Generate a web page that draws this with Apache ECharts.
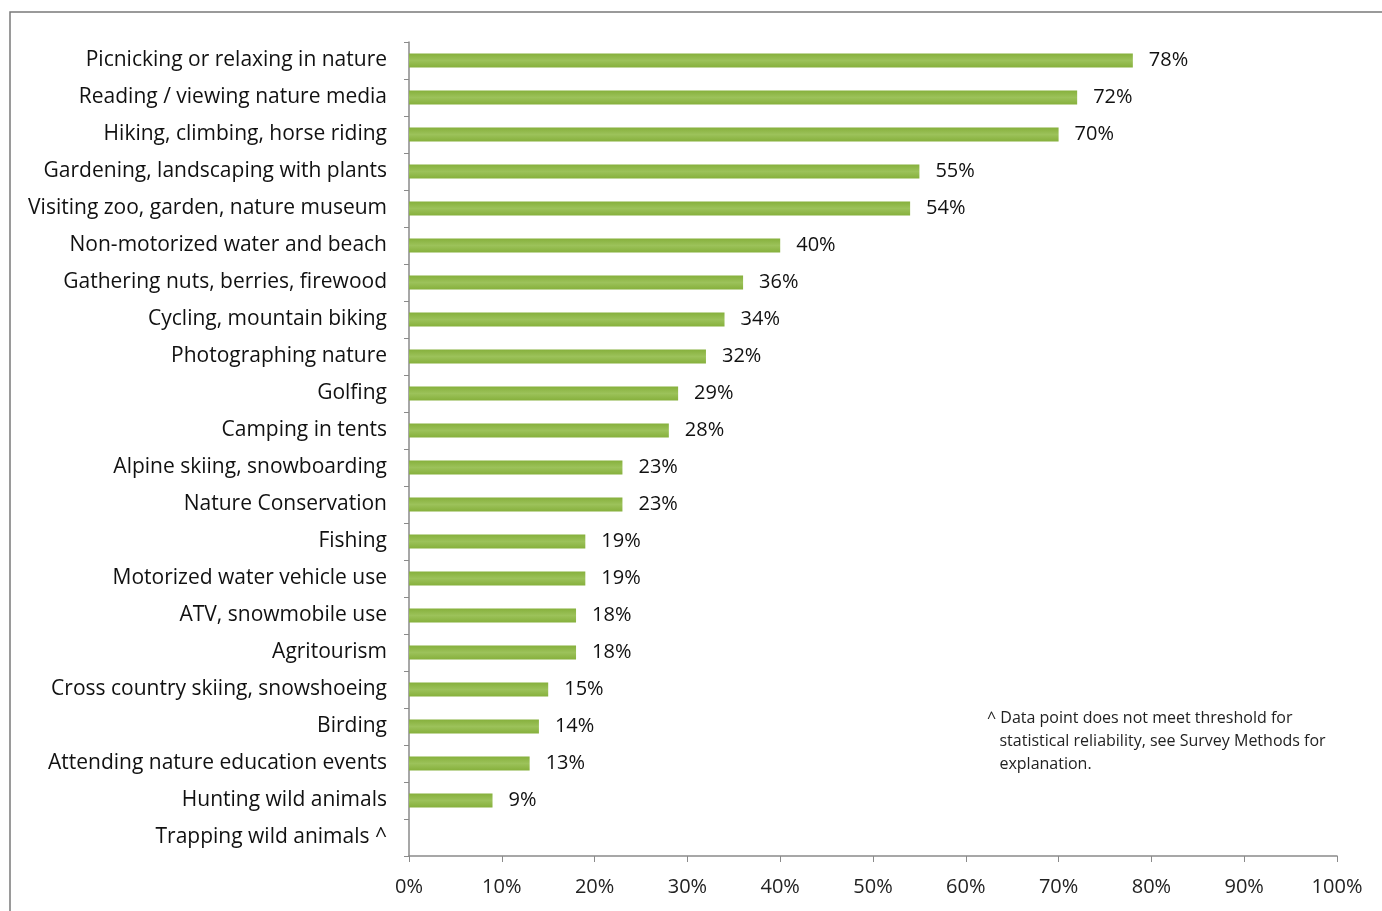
<!DOCTYPE html>
<html>
<head>
<meta charset="utf-8">
<script src="https://cdn.jsdelivr.net/npm/echarts@6/dist/echarts.min.js"></script>
<style>
  html, body { margin: 0; padding: 0; background: #fff; }
  #main { width: 1382px; height: 911px; }
</style>
</head>
<body>
<div id="main"></div>
<script>
// activities, top to bottom
var activities = [
  'Picnicking or relaxing in nature',
  'Reading / viewing nature media',
  'Hiking, climbing, horse riding',
  'Gardening, landscaping with plants',
  'Visiting zoo, garden, nature museum',
  'Non-motorized water and beach',
  'Gathering nuts, berries, firewood',
  'Cycling, mountain biking',
  'Photographing nature',
  'Golfing',
  'Camping in tents',
  'Alpine skiing, snowboarding',
  'Nature Conservation',
  'Fishing',
  'Motorized water vehicle use',
  'ATV, snowmobile use',
  'Agritourism',
  'Cross country skiing, snowshoeing',
  'Birding',
  'Attending nature education events',
  'Hunting wild animals',
  'Trapping wild animals ^'
];
// percent participating (no reliable value for trapping)
var percents = [78, 72, 70, 55, 54, 40, 36, 34, 32, 29, 28, 23, 23, 19, 19, 18, 18, 15, 14, 13, 9, null];
var footnote = '^ Data point does not meet threshold for\n   statistical reliability, see Survey Methods for\n   explanation.';

var chart = echarts.init(document.getElementById('main'));
var font = '"Open Sans", Lato, sans-serif';

chart.setOption({
  backgroundColor: '#fff',
  animation: false,
  grid: { left: 409, right: 45, top: 42, bottom: 55 },
  xAxis: {
    type: 'value',
    min: 0, max: 100, interval: 10,
    axisLine: { show: true, lineStyle: { color: '#8a8a8a', width: 1.5 } },
    axisTick: { show: true, length: 6, lineStyle: { color: '#8a8a8a' } },
    splitLine: { show: false },
    axisLabel: {
      formatter: '{value}%', color: '#222', fontSize: 20, fontFamily: font, margin: 21
    }
  },
  yAxis: {
    type: 'category',
    inverse: true,
    data: activities,
    axisLine: { show: true, lineStyle: { color: '#8a8a8a', width: 1.5 } },
    axisTick: { show: true, length: 5, lineStyle: { color: '#8a8a8a' } },
    axisLabel: { color: '#111', fontSize: 21, fontFamily: font, margin: 22, padding: [3, 0, 0, 0] }
  },
  series: [{
    type: 'bar',
    data: percents,
    barWidth: 14,
    itemStyle: {
      color: new echarts.graphic.LinearGradient(0, 0, 0, 1, [
        { offset: 0, color: '#86b03c' },
        { offset: 0.5, color: '#9cc25a' },
        { offset: 1, color: '#86b03c' }
      ])
    },
    label: {
      show: true, position: 'right', distance: 16, padding: [3, 0, 0, 0],
      formatter: function (p) { return p.value == null ? '' : p.value + '%'; },
      color: '#111', fontSize: 20, fontFamily: font
    }
  }],
  graphic: [
    {
      type: 'rect', silent: true,
      shape: { x: 10, y: 12, width: 1400, height: 1000 },
      style: { fill: 'none', stroke: '#7a7a7a', lineWidth: 1.5 }
    },
    {
      type: 'text', left: 987, top: 707,
      style: { text: footnote, fill: '#222', font: '16px ' + font, lineHeight: 23 }
    }
  ]
});
</script>
</body>
</html>
